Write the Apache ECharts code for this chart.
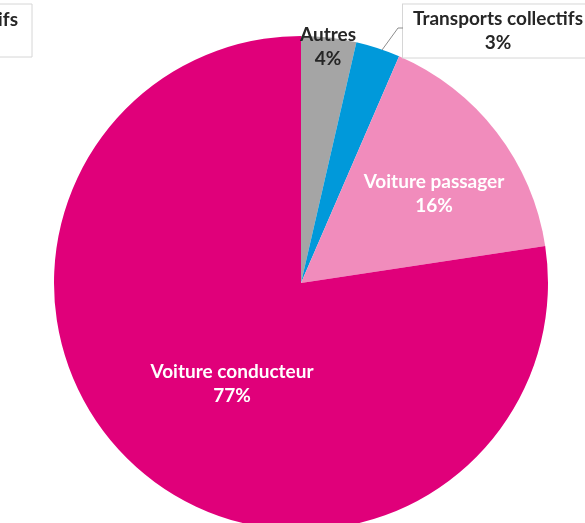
<!DOCTYPE html>
<html>
<head>
<meta charset="utf-8">
<script src="https://cdn.jsdelivr.net/npm/echarts@6/dist/echarts.min.js"></script>
<style>
  html, body { margin: 0; padding: 0; background: #fff; }
  #chart { width: 585px; height: 523px; }
</style>
</head>
<body>
<div id="chart"></div>
<script>
// catégories et parts (en %)
var categories = ['Autres', 'Transports collectifs', 'Voiture passager', 'Voiture conducteur'];
var parts = [3.6, 2.9, 16.1, 77.4];
var couleurs = ['#a5a5a5', '#0099da', '#f18cbc', '#e0007a'];

// position des étiquettes (centre), dans l'ordre des catégories
var posEtiquettes = [[328, 47], [498, 31], [434, 194], [232, 384]];

var chart = echarts.init(document.getElementById('chart'));

var donnees = categories.map(function (nom, i) {
  var item = { name: nom, value: parts[i], itemStyle: { color: couleurs[i] } };
  if (i === 1) {
    item.label = {
      color: '#262626',
      backgroundColor: '#fff',
      borderColor: '#d6d6d6',
      borderWidth: 1,
      padding: [2, 10, 3, 10]
    };
  } else if (i === 0) {
    item.label = { color: '#262626' };
  }
  return item;
});

var option = {
  animation: false,
  graphic: [{
    type: 'group',
    children: [{
      type: 'rect',
      shape: { x: -160, y: 4, width: 192, height: 53 },
      style: { fill: '#fff', stroke: '#d6d6d6', lineWidth: 1 }
    }, {
      type: 'text',
      style: {
        text: 'Modes actifs',
        x: 18, y: 20,
        align: 'right', verticalAlign: 'middle',
        font: 'bold 19px Lato',
        fill: '#262626'
      }
    }]
  }, {
    // trait de rappel vers l'étiquette « Transports collectifs »
    type: 'polyline',
    z: 100,
    shape: { points: [[382, 50], [398, 28], [403, 28]] },
    style: { stroke: '#8c8c8c', lineWidth: 1, fill: null }
  }],
  series: [{
    type: 'pie',
    center: [301, 283],
    radius: 247,
    startAngle: 90,
    clockwise: true,
    percentPrecision: 0,
    label: {
      show: true,
      position: 'inside',
      formatter: '{b}\n{d}%',
      fontFamily: 'Lato',
      fontWeight: 'bold',
      fontSize: 19,
      lineHeight: 24,
      color: '#fff',
      align: 'center',
      overflow: 'none'
    },
    labelLine: { show: false },
    labelLayout: function (p) {
      var pos = posEtiquettes[p.dataIndex];
      return { x: pos[0], y: pos[1], align: 'center', verticalAlign: 'middle' };
    },
    data: donnees
  }]
};

chart.setOption(option);
</script>
</body>
</html>
